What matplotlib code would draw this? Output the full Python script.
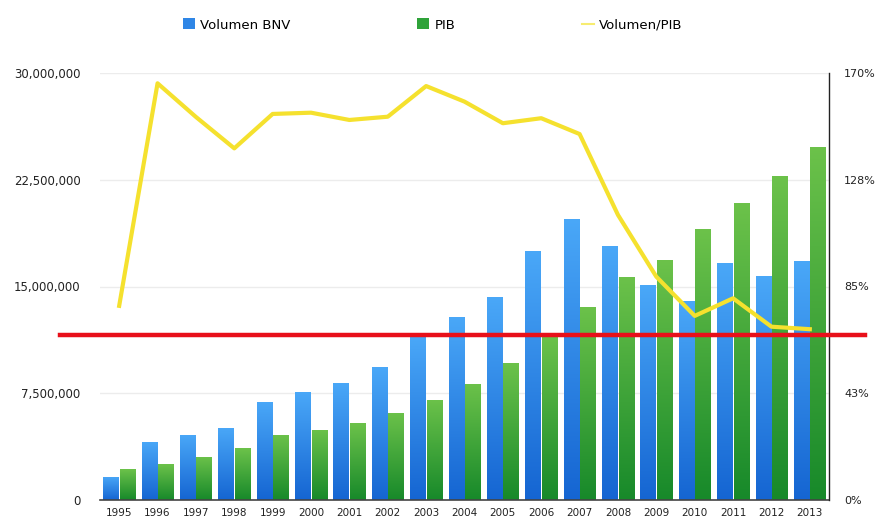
import numpy as np
import matplotlib
matplotlib.use("Agg")
import matplotlib.pyplot as plt
from matplotlib.colors import LinearSegmentedColormap
from matplotlib.lines import Line2D
from matplotlib.patches import Patch

years = [str(y) for y in range(1995, 2014)]
volumen_bnv = [1.64e6, 4.10e6, 4.57e6, 5.08e6, 6.91e6, 7.58e6, 8.24e6, 9.32e6, 11.52e6,
               12.88e6, 14.24e6, 17.50e6, 19.77e6, 17.85e6, 15.08e6, 14.00e6, 16.67e6,
               15.74e6, 16.82e6]
pib = [2.16e6, 2.50e6, 3.04e6, 3.63e6, 4.57e6, 4.92e6, 5.39e6, 6.14e6, 7.03e6, 8.15e6,
       9.60e6, 11.52e6, 13.58e6, 15.69e6, 16.86e6, 19.02e6, 20.85e6, 22.79e6, 24.83e6]
volumen_pib = [77.3, 165.9, 152.5, 140.0, 153.7, 154.2, 151.3, 152.6, 164.8, 158.6,
               150.0, 152.0, 145.7, 113.5, 88.9, 73.3, 80.3, 69.0, 68.0]
umbral = 11_600_000

left_ticks = [0, 7_500_000, 15_000_000, 22_500_000, 30_000_000]
left_labels = ["0", "7,500,000", "15,000,000", "22,500,000", "30,000,000"]
right_ticks = [0, 42.5, 85, 127.5, 170]
right_labels = ["0%", "43%", "85%", "128%", "170%"]

fig = plt.figure(figsize=(8.76, 5.18), dpi=100)
ax = fig.add_axes([100/876, 18/518, 729/876, 427/518])
ax2 = ax.twinx()

x = np.arange(len(years))
w = 0.40
blue_cmap = LinearSegmentedColormap.from_list("b", ["#1565d2", "#4aa8f8"])
green_cmap = LinearSegmentedColormap.from_list("g", ["#17892a", "#6cc24a"])
grad = np.linspace(0, 1, 256).reshape(-1, 1)

for vals, offset, cmap in [(volumen_bnv, -w/2 - 0.015, blue_cmap), (pib, w/2 + 0.015, green_cmap)]:
    bars = ax.bar(x + offset, vals, width=w, color="none", edgecolor="none", zorder=2)
    for b in bars:
        x0, y0 = b.get_x(), b.get_y()
        im = ax.imshow(grad, extent=[x0, x0 + b.get_width(), y0, y0 + b.get_height()],
                       origin="lower", aspect="auto", cmap=cmap, zorder=2)
        im.set_clip_path(b)

ax.set_xlim(-0.5, len(years) - 0.5)
ax.set_ylim(0, 30_000_000)
ax.set_yticks(left_ticks)
ax.set_yticklabels(left_labels)
ax.set_xticks(x)
ax.set_xticklabels(years)
ax.yaxis.grid(True, color="#ececec", linewidth=1, zorder=0)
ax.set_axisbelow(True)
for s in ["left", "top", "right"]:
    ax.spines[s].set_visible(False)
ax.spines["bottom"].set_color("#444444")
ax.spines["bottom"].set_linewidth(1.2)
ax.tick_params(axis="y", length=0, pad=14, labelsize=8.5, labelcolor="#222222")
ax.tick_params(axis="x", length=0, pad=6, labelsize=7.5, labelcolor="#222222")

ax2.set_ylim(0, 170)
ax2.set_yticks(right_ticks)
ax2.set_yticklabels(right_labels)
ax2.tick_params(axis="y", length=0, pad=11, labelsize=8, labelcolor="#222222")
for s in ["left", "top", "bottom"]:
    ax2.spines[s].set_visible(False)
ax2.spines["right"].set_color("#222222")
ax2.spines["right"].set_linewidth(1)

ax2.plot(x, volumen_pib, color="#f5e12e", linewidth=3, solid_joinstyle="round", zorder=3)

# red threshold line (in left-axis units) extending beyond the axes
yr = umbral / 30_000_000
ax2.plot([-0.055, 1.049], [yr, yr], transform=ax2.transAxes, color="#e8101a",
         linewidth=3.2, clip_on=False, zorder=4)

handles = [Patch(facecolor="#2f86e6", edgecolor="none"),
           Patch(facecolor="#2fa33a", edgecolor="none"),
           Line2D([0], [0], color="#f7ec70", linewidth=1.5)]
fig.legend(handles, ["Volumen BNV", "PIB", "Volumen/PIB"], loc="center left",
           bbox_to_anchor=(183/876, 1 - 25/518), ncol=3, frameon=False, fontsize=9.5,
           borderpad=0, borderaxespad=0,
           handlelength=0.9, handleheight=0.9, handletextpad=0.4, columnspacing=9.6)

fig.savefig("out.png", dpi=100)
